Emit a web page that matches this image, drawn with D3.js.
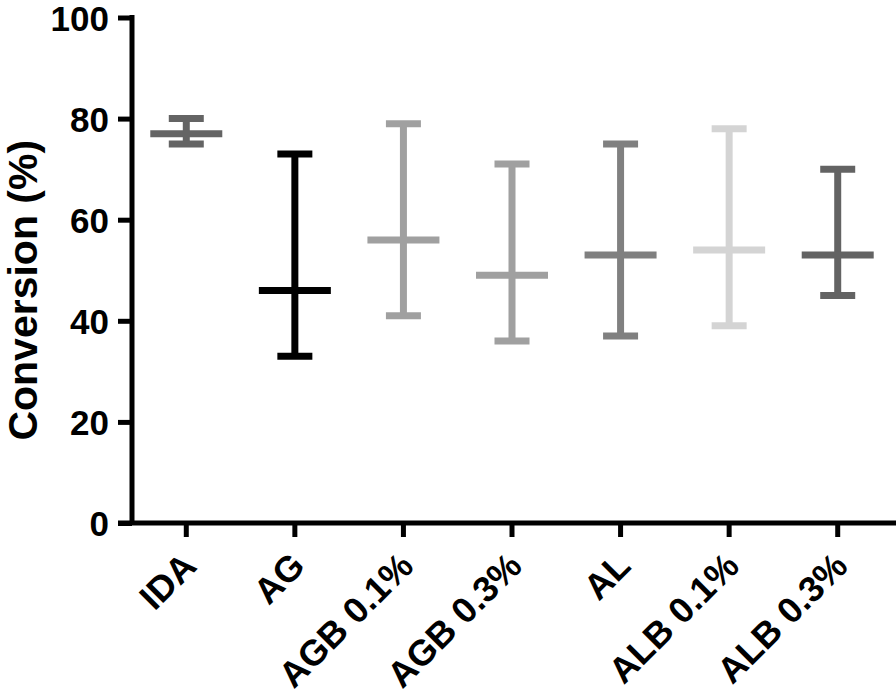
<!DOCTYPE html>
<html>
<head>
<meta charset="utf-8">
<script src="https://cdn.jsdelivr.net/npm/d3@7"></script>
<style>
  body { margin: 0; background: #fff; }
  text { font-family: "Liberation Sans", Arial, sans-serif; font-weight: bold; }
</style>
</head>
<body>
<div id="chart"></div>
<script>
let width = 896,
  height = 699;

// values
const groups = ["IDA", "AG", "AGB 0.1%", "AGB 0.3%", "AL", "ALB 0.1%", "ALB 0.3%"];
const means = [77, 46, 56, 49, 53, 54, 53];
const upper = [80, 73, 79, 71, 75, 78, 70];
const lower = [75, 33, 41, 36, 37, 39, 45];
const shades = ["#646464", "#000000", "#a0a0a0", "#a0a0a0", "#808080", "#d4d4d4", "#636363"];
const yTicks = [0, 20, 40, 60, 80, 100];

let data = groups.map((g, i) => ({ group: g, mean: means[i], hi: upper[i], lo: lower[i], color: shades[i] }));

let svg = d3.select("#chart")
  .append("svg")
  .attr("width", width)
  .attr("height", height);

let x = d3.scaleBand()
  .domain(groups)
  .range([132, 892]);

let y = d3.scaleLinear()
  .domain([0, 100])
  .range([523, 17.5]);

// y axis
let yAxis = svg.append("g")
  .attr("transform", "translate(132,0)")
  .call(d3.axisLeft(y).tickValues(yTicks).tickSize(14).tickPadding(9).tickSizeOuter(0));
yAxis.select(".domain").attr("stroke-width", 5).attr("d", `M0,${y(100) - 2.5}V${y(0)}`);
yAxis.selectAll(".tick line").attr("stroke-width", 5);
yAxis.selectAll(".tick text")
  .attr("font-size", 35)
  .attr("font-family", "Liberation Sans")
  .attr("font-weight", "bold")
  .attr("fill", "#000")
  .attr("dy", "0.36em");

// x axis
let xAxis = svg.append("g")
  .attr("transform", `translate(0,${y(0)})`)
  .call(d3.axisBottom(x).tickSize(14).tickSizeOuter(0));
xAxis.select(".domain").attr("stroke-width", 5).attr("d", "M118,0H896");
xAxis.selectAll(".tick line").attr("stroke-width", 5);
xAxis.selectAll(".tick text")
  .attr("font-size", 36)
  .attr("font-family", "Liberation Sans")
  .attr("font-weight", "bold")
  .attr("fill", "#000")
  .attr("text-anchor", "end")
  .attr("y", 0)
  .attr("dy", 0)
  .attr("transform", "translate(12,45) rotate(-45)");

// axis title
svg.append("text")
  .attr("transform", `translate(37,${(y(0) + y(100)) / 2 + 20}) rotate(-90)`)
  .attr("text-anchor", "middle")
  .attr("font-size", 41)
  .text("Conversion (%)");

// error bars
let bars = svg.append("g").selectAll("g")
  .data(data)
  .join("g")
  .attr("stroke", d => d.color)
  .attr("stroke-width", 7);

let cx = d => x(d.group) + x.bandwidth() / 2;

bars.append("line")
  .attr("x1", cx).attr("x2", cx)
  .attr("y1", d => y(d.hi)).attr("y2", d => y(d.lo));

bars.append("line")
  .attr("x1", d => cx(d) - 17.5).attr("x2", d => cx(d) + 17.5)
  .attr("y1", d => y(d.hi)).attr("y2", d => y(d.hi));

bars.append("line")
  .attr("x1", d => cx(d) - 17.5).attr("x2", d => cx(d) + 17.5)
  .attr("y1", d => y(d.lo)).attr("y2", d => y(d.lo));

bars.append("line")
  .attr("x1", d => cx(d) - 36).attr("x2", d => cx(d) + 36)
  .attr("y1", d => y(d.mean)).attr("y2", d => y(d.mean));
</script>
</body>
</html>
